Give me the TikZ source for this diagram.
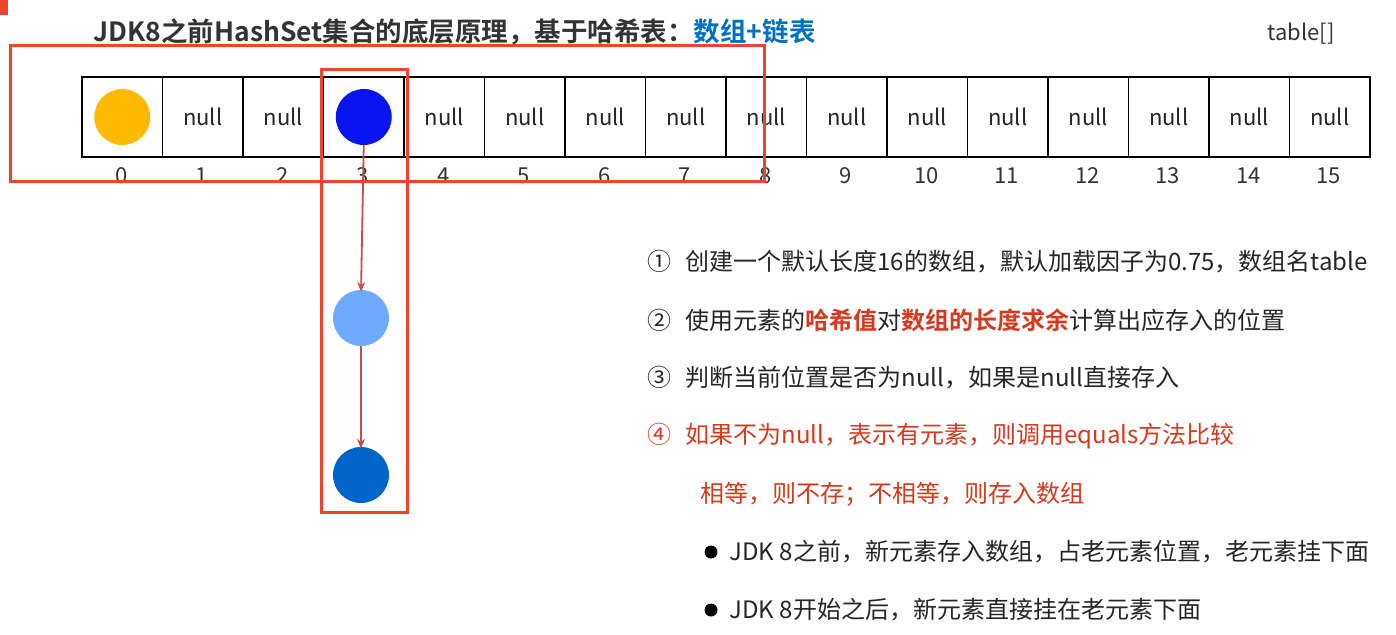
\documentclass[tikz,border=0pt]{standalone}
\usepackage{fontspec}
\setmainfont{Noto Sans CJK SC}
\newfontfamily\cjkb{Noto Sans CJK SC Bold}
\usetikzlibrary{arrows.meta}
\definecolor{redbox}{HTML}{F0432C}
\definecolor{arr}{HTML}{C0504D}
\definecolor{txtred}{HTML}{D8381C}
\definecolor{tblue}{HTML}{0070C0}
\tikzset{
 cell/.style={draw,line width=1.6pt,minimum width=80.5pt,minimum height=80pt,inner sep=0pt,font=\fontsize{22}{24}\selectfont,text=black!85},
 idx/.style={font=\fontsize{22}{24}\selectfont,text=black!80},
 ball/.style={circle,minimum size=56pt,inner sep=0pt},
 hl/.style={draw=redbox,line width=3pt},
 link/.style={draw=arr,line width=1.8pt,-{Stealth[length=10pt,width=8pt]}},
 line/.style={anchor=west,font=\fontsize{24}{26}\selectfont,text=black!85}
}
\begin{document}
\begin{tikzpicture}[x=1pt,y=-1pt]
\useasboundingbox (0,0) rectangle (1396,634);
\fill[redbox] (0,0) rectangle (8,15);
\node[anchor=west,font=\cjkb\fontsize{26.5}{28}\selectfont,text=black!80] (title) at (90,32) {JDK8之前HashSet集合的底层原理，基于哈希表：\textcolor{tblue}{数组+链表}};
\node[anchor=east,font=\fontsize{22}{24}\selectfont,text=black!80] (tname) at (1338,34) {table[]};
\foreach \i in {0,...,15}{
 \pgfmathsetmacro\cx{82+80.5*\i+40.25}
 \ifnum\i=0 \node[cell] (c\i) at (\cx,117) {};
 \else\ifnum\i=3 \node[cell] (c\i) at (\cx,117) {};
 \else \node[cell] (c\i) at (\cx,117) {null};\fi\fi
 \node[idx] (i\i) at (\cx-1,176) {\i};
}
\node[ball,fill={rgb,255:red,255;green,185;blue,0}] (y0) at (c0) {};
\node[ball,fill={rgb,255:red,10;green,20;blue,240}] (b3) at (c3) {};
\node[ball,fill={rgb,255:red,110;green,170;blue,255}] (b2) at (361,318) {};
\node[ball,fill={rgb,255:red,0;green,100;blue,200}] (b1) at (361,475) {};
\draw[link] (b3.south) -- ([yshift=-2pt]b2.north);
\draw[link] (b2.south) -- ([yshift=-2pt]b1.north);
\draw[hl] (10,46) rectangle (764,181);
\draw[hl] (321,69) rectangle (407,512);
\node[line] (l1) at (644,262) {①\hspace{14pt}创建一个默认长度16的数组，默认加载因子为0.75，数组名table};
\node[line] (l2) at (644,320) {②\hspace{14pt}使用元素的{\cjkb\color{txtred}哈希值}对{\cjkb\color{txtred}数组的长度求余}计算出应存入的位置};
\node[line] (l3) at (644,378) {③\hspace{14pt}判断当前位置是否为null，如果是null直接存入};
\node[line,text=txtred] (l4) at (644,436) {④\hspace{14pt}如果不为null，表示有元素，则调用equals方法比较};
\node[line,text=txtred] (l5) at (697,494) {相等，则不存；不相等，则存入数组};
\fill[black] (711,552) circle (6.5);
\fill[black] (711,610) circle (6.5);
\node[line] (l6) at (726,552) {JDK 8之前，新元素存入数组，占老元素位置，老元素挂下面};
\node[line] (l7) at (726,610) {JDK 8开始之后，新元素直接挂在老元素下面};
\end{tikzpicture}
\end{document}
